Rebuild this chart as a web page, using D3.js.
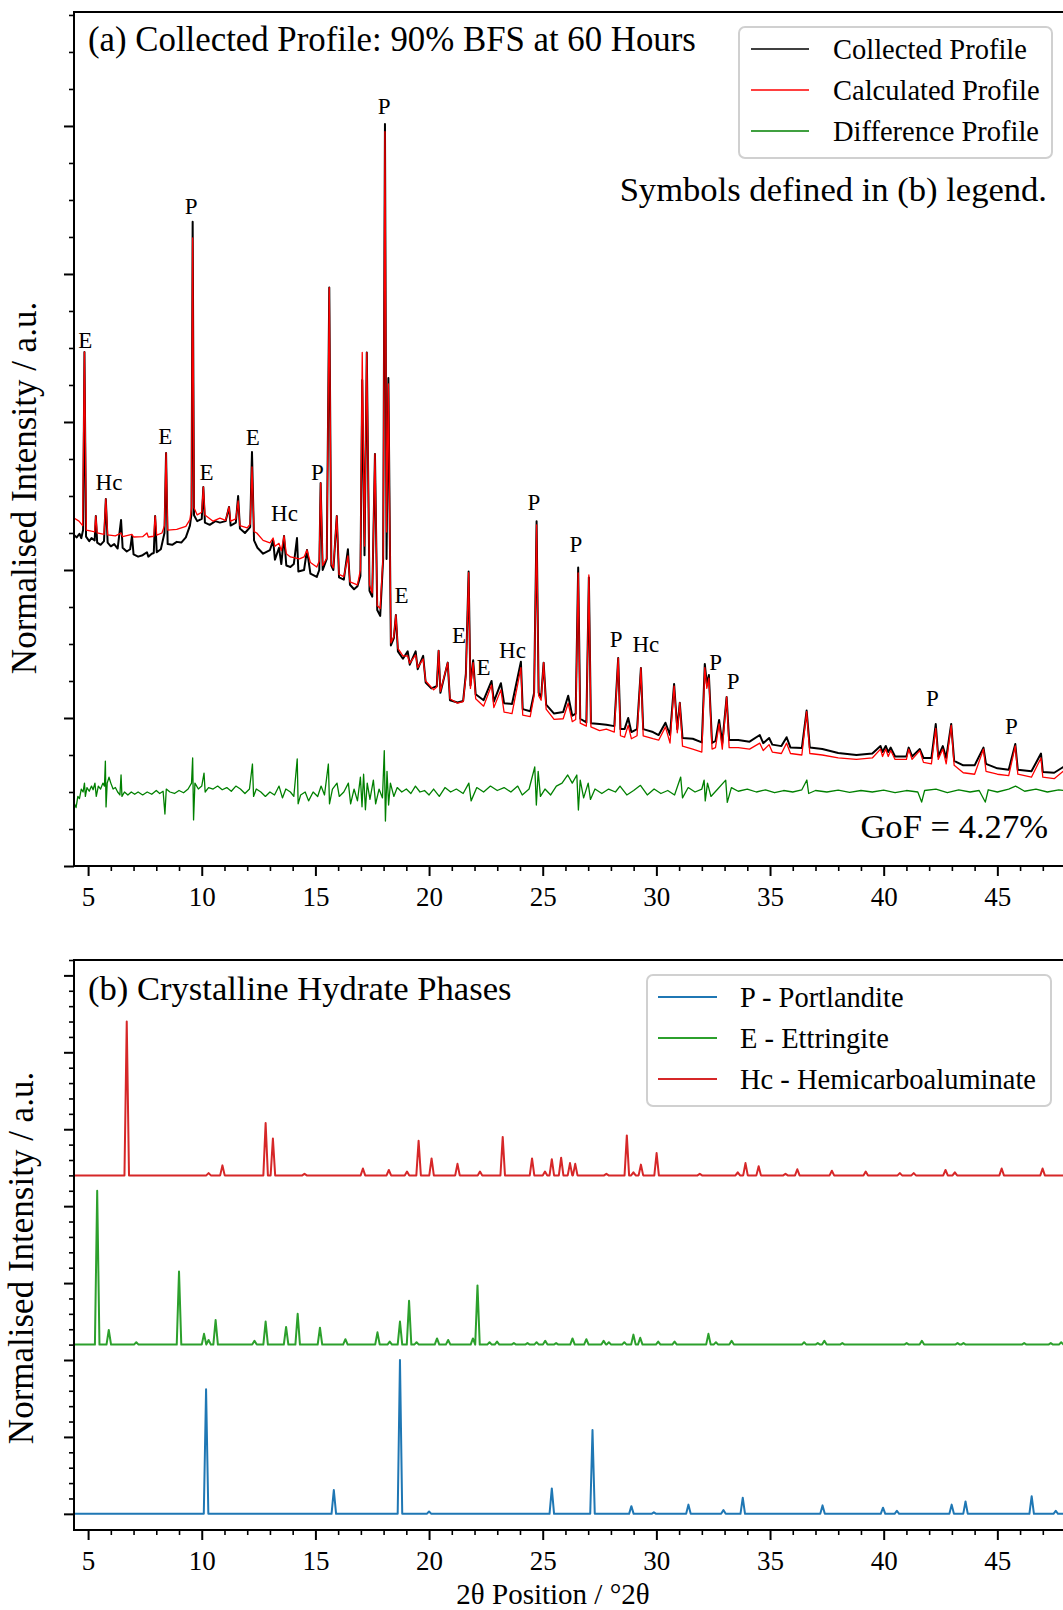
<!DOCTYPE html>
<html>
<head>
<meta charset="utf-8">
<script src="https://cdn.jsdelivr.net/npm/d3@7"></script>
<style>
  body { margin: 0; background: #fff; }
  svg { display: block; font-family: "Liberation Serif", "Times New Roman", serif; }
</style>
</head>
<body>
<div id="chart"></div>
<script>
// ---- (a) refinement profiles: [2theta, counts] ----
const calcProfile = [
  [4.38, 2351], [4.60, 2330], [4.76, 2300], [4.84, 3473], [4.92, 2270],
  [5.15, 2262], [5.29, 2258], [5.34, 2365], [5.40, 2250], [5.70, 2240],
  [5.78, 2480], [5.86, 2237], [6.20, 2230], [6.45, 2250], [6.52, 2225],
  [6.93, 2240], [7.00, 2223], [7.40, 2225], [7.59, 2250], [7.65, 2223],
  [7.89, 2228], [7.95, 2365], [8.02, 2235], [8.25, 2250], [8.36, 2300],
  [8.43, 2791], [8.50, 2270], [8.90, 2275], [9.30, 2295], [9.48, 2340],
  [9.55, 2420], [9.60, 4243], [9.66, 2420], [9.80, 2372], [10.00, 2390],
  [10.07, 2561], [10.14, 2372], [10.50, 2330], [10.80, 2350], [11.05, 2335],
  [11.20, 2426], [11.27, 2330], [11.50, 2345], [11.60, 2466], [11.68, 2300],
  [12.00, 2284], [12.13, 2310], [12.21, 2696], [12.30, 2260], [12.42, 2250],
  [12.70, 2200], [13.00, 2183], [13.14, 2216], [13.22, 2160], [13.40, 2180],
  [13.50, 2130], [13.62, 2230], [13.72, 2110], [13.90, 2088], [14.30, 2075],
  [14.50, 2088], [14.63, 2135], [14.78, 2050], [15.06, 2020], [15.17, 2060],
  [15.23, 2588], [15.32, 2030], [15.50, 2080], [15.61, 3908], [15.70, 2040],
  [15.79, 2014], [15.94, 2365], [16.04, 1970], [16.25, 1955], [16.43, 2095],
  [16.52, 1920], [16.85, 1900], [16.98, 2000], [17.06, 3470], [17.16, 2162],
  [17.26, 3470], [17.38, 1900], [17.50, 1845], [17.62, 2784], [17.72, 1760],
  [17.85, 1740], [17.98, 2100], [18.06, 4962], [18.13, 2257], [18.21, 3257],
  [18.32, 1507], [18.45, 1550], [18.54, 1696], [18.63, 1470], [18.85, 1420],
  [19.06, 1419], [19.15, 1370], [19.41, 1426], [19.50, 1340], [19.74, 1399],
  [19.85, 1250], [20.20, 1190], [20.34, 1210], [20.42, 1455], [20.50, 1180],
  [20.82, 1374], [20.92, 1130], [21.25, 1100], [21.50, 1110], [21.62, 1280],
  [21.74, 1982], [21.82, 1200], [21.94, 1374], [22.05, 1130], [22.40, 1080],
  [22.75, 1223], [22.85, 1070], [23.16, 1190], [23.30, 1040], [23.65, 1030],
  [24.04, 1340], [24.12, 1020], [24.45, 1010], [24.62, 1150], [24.73, 2304],
  [24.82, 1150], [24.93, 1120], [25.04, 1374], [25.15, 1060], [25.50, 990],
  [25.90, 995], [26.12, 1100], [26.30, 975], [26.45, 990], [26.56, 1980],
  [26.65, 965], [26.92, 945], [27.03, 1966], [27.12, 940], [27.50, 915],
  [27.80, 925], [28.15, 905], [28.32, 1405], [28.42, 880], [28.60, 870],
  [28.76, 950], [28.90, 860], [29.15, 880], [29.32, 1338], [29.42, 880],
  [29.85, 860], [30.10, 850], [30.40, 940], [30.60, 830], [30.78, 1216],
  [30.92, 900], [31.03, 1103], [31.15, 810], [31.60, 790], [32.00, 770],
  [32.13, 1340], [32.22, 1200], [32.31, 1270], [32.45, 790], [32.60, 800],
  [32.76, 960], [32.90, 790], [33.09, 1142], [33.20, 800], [33.60, 800],
  [34.10, 790], [34.55, 830], [34.70, 780], [34.96, 820], [35.10, 770],
  [35.50, 760], [35.73, 830], [35.90, 760], [36.40, 750], [36.61, 1043],
  [36.75, 760], [37.30, 750], [38.00, 730], [38.80, 720], [39.50, 730],
  [39.86, 790], [39.95, 740], [40.09, 790], [40.20, 740], [40.31, 780],
  [40.50, 720], [41.00, 720], [41.10, 790], [41.25, 720], [41.59, 780],
  [41.75, 700], [42.10, 690], [42.29, 930], [42.40, 720], [42.60, 790],
  [42.75, 690], [42.97, 950], [43.10, 680], [43.50, 630], [44.00, 620],
  [44.39, 790], [44.50, 640], [45.00, 620], [45.50, 610], [45.79, 811],
  [45.90, 620], [46.50, 600], [46.92, 730], [47.00, 600], [47.50, 590],
  [47.90, 640], [48.50, 600], [50.00, 580]
];

const obsProfile = [
  [4.38, 2237], [4.50, 2220], [4.62, 2245], [4.70, 2215], [4.78, 2270], [4.84, 3473], [4.91, 2225],
  [5.05, 2195], [5.15, 2215], [5.29, 2200], [5.34, 2365], [5.40, 2185], [5.55, 2170], [5.70, 2195],
  [5.78, 2480], [5.86, 2185], [6.00, 2160], [6.15, 2175], [6.30, 2145], [6.45, 2338], [6.52, 2150],
  [6.70, 2125], [6.85, 2140], [6.93, 2230], [7.00, 2105], [7.20, 2090], [7.40, 2100], [7.59, 2120],
  [7.65, 2090], [7.80, 2110], [7.89, 2115], [7.95, 2365], [8.02, 2120], [8.20, 2140], [8.36, 2250],
  [8.43, 2791], [8.50, 2175], [8.70, 2170], [8.90, 2190], [9.10, 2185], [9.30, 2220], [9.48, 2300],
  [9.55, 2380], [9.60, 4352], [9.66, 2370], [9.80, 2330], [10.00, 2345], [10.07, 2561], [10.14, 2320],
  [10.35, 2305], [10.60, 2330], [10.80, 2320], [11.05, 2330], [11.20, 2426], [11.27, 2300], [11.50, 2320],
  [11.60, 2500], [11.68, 2280], [11.90, 2250], [12.13, 2290], [12.21, 2797], [12.30, 2200], [12.45, 2150],
  [12.70, 2110], [13.00, 2135], [13.14, 2200], [13.22, 2070], [13.40, 2150], [13.50, 2040], [13.62, 2230],
  [13.72, 2030], [13.90, 2020], [14.05, 2040], [14.19, 2216], [14.25, 1990], [14.50, 2000], [14.63, 2135],
  [14.78, 1975], [15.06, 1953], [15.17, 2000], [15.23, 2588], [15.32, 2000], [15.50, 2075], [15.61, 3908],
  [15.70, 2030], [15.79, 2000], [15.94, 2365], [16.04, 1950], [16.25, 1935], [16.43, 2140], [16.52, 1900],
  [16.70, 1870], [16.85, 1890], [16.98, 1960], [17.06, 3284], [17.16, 2100], [17.26, 3470], [17.38, 1860],
  [17.50, 1820], [17.62, 2784], [17.72, 1730], [17.85, 1690], [17.98, 2074], [18.06, 5014], [18.13, 2074],
  [18.21, 3297], [18.32, 1490], [18.45, 1540], [18.54, 1696], [18.63, 1450], [18.85, 1400],
  [19.06, 1450], [19.15, 1360], [19.41, 1450], [19.50, 1330], [19.74, 1420], [19.85, 1240], [20.10, 1200],
  [20.34, 1215], [20.42, 1455], [20.50, 1170], [20.82, 1374], [20.92, 1120], [21.25, 1105], [21.50, 1115],
  [21.62, 1300], [21.74, 1990], [21.82, 1220], [21.94, 1390], [22.05, 1160], [22.40, 1120], [22.75, 1250],
  [22.85, 1110], [23.16, 1235], [23.30, 1100], [23.65, 1095], [24.04, 1380], [24.12, 1060], [24.45, 1045],
  [24.62, 1170], [24.73, 2330], [24.82, 1170], [24.93, 1140], [25.04, 1374], [25.15, 1090], [25.50, 1030],
  [25.90, 1040], [26.12, 1150], [26.30, 1015], [26.45, 1030], [26.56, 2017], [26.65, 995], [26.92, 970],
  [27.03, 1950], [27.12, 965], [27.50, 960], [27.80, 955], [28.15, 945], [28.32, 1405], [28.42, 925],
  [28.60, 925], [28.76, 1000], [28.90, 905], [29.15, 925], [29.32, 1338], [29.42, 925], [29.85, 905],
  [30.10, 885], [30.40, 968], [30.60, 885], [30.78, 1230], [30.92, 925], [31.03, 1103], [31.15, 865],
  [31.60, 860], [32.00, 835], [32.13, 1365], [32.22, 1230], [32.31, 1291], [32.45, 831], [32.60, 845],
  [32.76, 987], [32.90, 830], [33.09, 1142], [33.20, 851], [33.60, 851], [34.10, 840], [34.55, 885],
  [34.70, 830], [34.96, 865], [35.10, 820], [35.50, 810], [35.73, 870], [35.90, 800], [36.40, 797],
  [36.61, 1050], [36.75, 800], [37.30, 790], [38.00, 764], [38.80, 750], [39.50, 760], [39.86, 811],
  [39.95, 770], [40.09, 811], [40.20, 770], [40.31, 800], [40.50, 740], [41.00, 740], [41.10, 800],
  [41.25, 740], [41.59, 790], [41.75, 730], [42.10, 730], [42.29, 959], [42.40, 740], [42.60, 810],
  [42.75, 730], [42.97, 960], [43.10, 710], [43.50, 680], [44.00, 680], [44.39, 800], [44.50, 690],
  [45.00, 660], [45.50, 650], [45.79, 824], [45.90, 650], [46.50, 640], [46.92, 760], [47.00, 635],
  [47.50, 630], [47.90, 669], [48.50, 640], [50.00, 620]
];

const diffProfile = [
  [4.40, 420], [4.47, 395], [4.55, 470], [4.62, 455], [4.70, 520], [4.78, 500], [4.84, 560], [4.88, 470],
  [4.95, 530], [5.05, 505], [5.15, 540], [5.22, 515], [5.30, 560], [5.36, 470], [5.45, 540], [5.55, 520],
  [5.65, 560], [5.72, 540], [5.76, 709], [5.79, 399], [5.84, 560], [5.92, 600], [6.00, 560], [6.10, 520],
  [6.20, 530], [6.30, 500], [6.40, 480], [6.45, 615], [6.49, 470], [6.60, 500], [6.75, 480], [6.90, 500],
  [7.05, 485], [7.20, 500], [7.40, 480], [7.60, 500], [7.80, 485], [8.00, 510], [8.15, 490], [8.30, 505],
  [8.38, 351], [8.44, 520], [8.60, 500], [8.80, 490], [9.00, 510], [9.20, 495], [9.40, 520], [9.55, 560],
  [9.60, 730], [9.64, 311], [9.70, 560], [9.85, 520], [10.00, 540], [10.10, 628], [10.15, 500], [10.30, 530],
  [10.50, 520], [10.70, 540], [10.90, 515], [11.10, 530], [11.30, 505], [11.50, 540], [11.70, 520], [11.90, 490],
  [12.10, 520], [12.23, 689], [12.28, 470], [12.40, 520], [12.60, 500], [12.80, 470], [13.00, 500], [13.20, 480],
  [13.40, 540], [13.55, 460], [13.70, 520], [13.90, 500], [14.05, 470], [14.20, 723], [14.24, 420], [14.35, 480],
  [14.55, 500], [14.70, 440], [14.90, 500], [15.10, 470], [15.25, 540], [15.40, 480], [15.57, 689], [15.62, 420],
  [15.75, 520], [15.95, 560], [16.05, 470], [16.25, 500], [16.45, 560], [16.55, 420], [16.70, 520], [16.85, 440],
  [16.98, 600], [17.05, 400], [17.12, 620], [17.20, 380], [17.28, 560], [17.40, 450], [17.55, 580], [17.65, 420],
  [17.80, 520], [17.95, 460], [18.03, 779], [18.08, 304], [18.15, 640], [18.22, 412], [18.30, 560], [18.45, 470],
  [18.60, 530], [18.80, 500], [19.00, 520], [19.20, 490], [19.40, 540], [19.60, 500], [19.80, 510], [20.00, 480],
  [20.20, 520], [20.45, 470], [20.70, 530], [20.95, 500], [21.20, 520], [21.50, 490], [21.75, 560], [21.85, 440],
  [22.10, 530], [22.40, 500], [22.70, 540], [23.00, 510], [23.30, 530], [23.60, 500], [23.90, 540], [24.10, 480],
  [24.40, 520], [24.65, 669], [24.72, 412], [24.80, 640], [24.90, 470], [25.10, 520], [25.35, 480], [25.60, 540],
  [25.85, 560], [26.10, 615], [26.30, 560], [26.50, 615], [26.57, 378], [26.65, 580], [26.80, 460], [27.00, 560],
  [27.10, 450], [27.30, 520], [27.60, 490], [27.90, 520], [28.20, 500], [28.40, 540], [28.70, 480], [29.00, 510],
  [29.30, 545], [29.60, 480], [29.90, 520], [30.20, 490], [30.50, 510], [30.80, 480], [31.07, 601], [31.15, 460],
  [31.40, 530], [31.70, 500], [32.00, 520], [32.10, 580], [32.15, 440], [32.25, 560], [32.40, 470], [32.70, 520],
  [33.05, 580], [33.12, 430], [33.30, 530], [33.60, 505], [34.00, 520], [34.40, 500], [34.80, 515], [35.20, 495],
  [35.60, 510], [36.00, 500], [36.40, 515], [36.62, 581], [36.70, 490], [37.00, 510], [37.50, 500], [38.00, 512],
  [38.50, 498], [39.00, 510], [39.50, 500], [40.00, 512], [40.50, 495], [41.00, 510], [41.50, 500], [41.67, 432],
  [41.80, 510], [42.30, 520], [42.80, 495], [43.30, 515], [43.80, 500], [44.20, 510], [44.47, 432], [44.60, 515],
  [45.00, 500], [45.50, 520], [45.80, 540], [46.20, 505], [46.70, 520], [47.20, 500], [47.70, 515], [48.20, 505],
  [50.00, 510]
];

// phase symbols written over the peaks: [symbol, 2theta, counts]
const peakLabels = [
  ["E", 4.88, 3500], ["Hc", 5.92, 2541], ["E", 8.40, 2851], ["P", 9.53, 4405],
  ["E", 10.21, 2608], ["E", 12.24, 2845], ["Hc", 13.64, 2331], ["P", 15.09, 2608],
  ["P", 18.02, 5081], ["E", 18.79, 1777], ["E", 21.32, 1507], ["E", 22.40, 1291],
  ["Hc", 23.67, 1405], ["P", 24.61, 2405], ["P", 26.46, 2122], ["P", 28.23, 1480],
  ["Hc", 29.54, 1446], ["P", 32.61, 1324], ["P", 33.38, 1196], ["P", 42.14, 1081],
  ["P", 45.62, 892]
];

const fitNames = ["Collected Profile", "Calculated Profile", "Difference Profile"];

// ---- (b) reference phase patterns: [2theta, relative intensity] ----
const portlandite = [
  [10.19, 1.62], [15.81, 0.31], [18.72, 2.00], [20.00, 0.03], [25.40, 0.33],
  [27.19, 1.09], [28.90, 0.10], [29.89, 0.02], [31.41, 0.12], [32.95, 0.05],
  [33.80, 0.21], [37.31, 0.11], [39.97, 0.08], [40.58, 0.04], [42.99, 0.12],
  [43.60, 0.16], [46.51, 0.23], [47.57, 0.04]
];
const ettringite = [
  [5.40, 2.00], [5.91, 0.19], [7.12, 0.03], [9.00, 0.95], [10.10, 0.14],
  [10.30, 0.06], [10.61, 0.32], [12.32, 0.05], [12.81, 0.30], [13.71, 0.23],
  [14.22, 0.40], [15.20, 0.22], [16.32, 0.07], [17.73, 0.16], [18.27, 0.04],
  [18.72, 0.30], [19.12, 0.57], [19.45, 0.03], [20.35, 0.08], [20.84, 0.06],
  [21.93, 0.08], [22.13, 0.77], [22.66, 0.03], [22.99, 0.04], [23.73, 0.02],
  [24.33, 0.02], [24.73, 0.03], [25.11, 0.05], [25.59, 0.02], [26.31, 0.08],
  [26.92, 0.07], [27.68, 0.05], [27.91, 0.03], [28.59, 0.03], [28.99, 0.13],
  [29.29, 0.09], [30.08, 0.04], [30.80, 0.04], [32.29, 0.14], [32.62, 0.03],
  [33.31, 0.05], [36.50, 0.03], [37.10, 0.02], [37.39, 0.05], [38.18, 0.02],
  [41.01, 0.02], [41.68, 0.05], [43.25, 0.02], [43.51, 0.02], [46.18, 0.02],
  [47.35, 0.02], [47.81, 0.03]
];
const hemicarbo = [
  [6.70, 2.00], [10.30, 0.03], [10.91, 0.13], [12.81, 0.68], [13.13, 0.48],
  [14.52, 0.02], [17.09, 0.09], [18.23, 0.07], [19.03, 0.05], [19.54, 0.45],
  [20.11, 0.22], [21.25, 0.15], [22.24, 0.05], [23.24, 0.50], [24.53, 0.22],
  [25.10, 0.05], [25.40, 0.21], [25.81, 0.23], [26.20, 0.16], [26.43, 0.15],
  [27.80, 0.02], [28.70, 0.52], [28.99, 0.04], [29.32, 0.14], [30.01, 0.29],
  [31.91, 0.02], [33.58, 0.04], [33.92, 0.16], [34.50, 0.12], [35.68, 0.02],
  [36.20, 0.08], [37.72, 0.06], [39.21, 0.05], [40.71, 0.03], [41.32, 0.03],
  [42.72, 0.07], [43.13, 0.04], [45.19, 0.09], [46.99, 0.09]
];
const phaseNames = ["P - Portlandite", "E - Ettringite", "Hc - Hemicarboaluminate"];
const phaseOffsets = [0, 2.2, 4.4];

const xMajorTicks = d3.range(5, 46, 5);
const xMinorTicks = d3.range(5, 50, 1).filter(v => v % 5 !== 0);

// ---- layout ----
const W = 1063, H = 1610;
const xLeft = 74, xRight = 1111;
const A = { top: 12, bottom: 866 };
const B = { top: 960, bottom: 1530 };
const serif = '"Liberation Serif", "Times New Roman", serif';

const svg = d3.select("#chart").append("svg")
    .attr("width", W)
    .attr("height", H);
svg.append("rect").attr("width", W).attr("height", H).attr("fill", "#fff");

const x = d3.scaleLinear().domain([4.38, 50]).range([xLeft, xRight]);
const yA = d3.scaleLinear().domain([0, 5770]).range([A.bottom, A.top]);
const yB = d3.scaleLinear().domain([-0.21, 7.2]).range([B.bottom, B.top]);

function makePanel(box, y, yMajor, yMinor, id) {
  const g = svg.append("g");
  svg.append("clipPath").attr("id", id).append("rect")
      .attr("x", xLeft).attr("y", box.top)
      .attr("width", xRight - xLeft).attr("height", box.bottom - box.top);

  const xAx = g.append("g")
      .attr("transform", `translate(0,${box.bottom})`)
      .call(d3.axisBottom(x).tickValues(xMajorTicks).tickSize(10).tickPadding(11).tickFormat(d3.format("d")));
  xAx.attr("font-family", serif).attr("font-size", 27);
  xAx.selectAll("text").attr("fill", "#000");

  const xMin = g.append("g")
      .attr("transform", `translate(0,${box.bottom})`)
      .call(d3.axisBottom(x).tickValues(xMinorTicks).tickSize(5).tickFormat(""));
  const yAx = g.append("g")
      .attr("transform", `translate(${xLeft},0)`)
      .call(d3.axisLeft(y).tickValues(yMajor).tickSize(10).tickFormat(""));
  const yMin = g.append("g")
      .attr("transform", `translate(${xLeft},0)`)
      .call(d3.axisLeft(y).tickValues(yMinor).tickSize(5).tickFormat(""));

  g.selectAll(".domain").remove();
  [xAx, yAx].forEach(a => a.selectAll("line").attr("stroke", "#000").attr("stroke-width", 2));
  [xMin, yMin].forEach(a => a.selectAll("line").attr("stroke", "#000").attr("stroke-width", 1.6));

  const plot = g.append("g").attr("clip-path", `url(#${id})`);

  // frame drawn on top of the data
  const frame = g.append("rect")
      .attr("x", xLeft).attr("y", box.top)
      .attr("width", xRight - xLeft).attr("height", box.bottom - box.top)
      .attr("fill", "none").attr("stroke", "#000").attr("stroke-width", 2);
  return { g, plot, frame };
}

function legend(g, x0, y0, w, h, rows, rowY, lineX0, lineX1, textX) {
  const lg = g.append("g");
  lg.append("rect")
      .attr("x", x0).attr("y", y0).attr("width", w).attr("height", h)
      .attr("rx", 6).attr("fill", "#fff").attr("fill-opacity", 0.85)
      .attr("stroke", "#d0d0d0").attr("stroke-width", 2);
  rows.forEach((r, i) => {
    lg.append("line")
        .attr("x1", lineX0).attr("x2", lineX1)
        .attr("y1", rowY[i]).attr("y2", rowY[i])
        .attr("stroke", r.color).attr("stroke-width", r.width);
    lg.append("text")
        .attr("x", textX).attr("y", rowY[i] + 9.5)
        .attr("font-size", 28.5).attr("fill", "#000")
        .text(r.name);
  });
}

// ---------- panel (a) ----------
const pa = makePanel(A, yA, d3.range(0, 5771, 1000), d3.range(0, 5771, 250).filter(v => v % 1000 !== 0), "clipA");
const lineA = d3.line().x(d => x(d[0])).y(d => yA(d[1]));

pa.plot.append("path").datum(obsProfile)
    .attr("fill", "none").attr("stroke", "#000").attr("stroke-width", 2)
    .attr("stroke-linejoin", "round").attr("d", lineA);
pa.plot.append("path").datum(calcProfile)
    .attr("fill", "none").attr("stroke", "#ff0000").attr("stroke-width", 1.3)
    .attr("stroke-linejoin", "round").attr("d", lineA);
pa.plot.append("path").datum(diffProfile)
    .attr("fill", "none").attr("stroke", "#008000").attr("stroke-width", 1.3)
    .attr("stroke-linejoin", "round").attr("d", lineA);

pa.g.selectAll("text.peak")
  .data(peakLabels)
  .join("text")
    .attr("class", "peak")
    .attr("x", d => x(d[1]))
    .attr("y", d => yA(d[2]))
    .attr("text-anchor", "middle")
    .attr("font-size", 23)
    .attr("fill", "#000")
    .text(d => d[0]);

pa.g.append("text")
    .attr("x", 88).attr("y", 51)
    .attr("font-size", 34.8).attr("fill", "#000")
    .text("(a) Collected Profile: 90% BFS at 60 Hours");

pa.g.append("text")
    .attr("x", 1047).attr("y", 201)
    .attr("text-anchor", "end")
    .attr("font-size", 34.6).attr("fill", "#000")
    .text("Symbols defined in (b) legend.");

pa.g.append("text")
    .attr("x", 1048).attr("y", 838)
    .attr("text-anchor", "end")
    .attr("font-size", 34.6).attr("fill", "#000")
    .text("GoF = 4.27%");

legend(pa.g, 739, 27, 313, 131,
  fitNames.map((n, i) => ({ name: n, color: ["#000", "#ff0000", "#008000"][i], width: 1.3 })),
  [49, 90, 131], 751, 809, 833);

pa.g.append("text")
    .attr("transform", "translate(36,488) rotate(-90)")
    .attr("text-anchor", "middle")
    .attr("font-size", 35).attr("fill", "#000")
    .text("Normalised Intensity / a.u.");

// ---------- panel (b) ----------
const pb = makePanel(B, yB, d3.range(0, 7.01, 1), d3.range(0, 7.21, 0.2).filter(v => Math.abs(v - Math.round(v)) > 0.01), "clipB");
const halfWidth = 0.1;

function stickPattern(peaks, offset) {
  const pts = [[4.38, offset]];
  peaks.forEach(([pos, h]) => {
    pts.push([pos - halfWidth, offset], [pos, offset + h], [pos + halfWidth, offset]);
  });
  pts.push([50, offset]);
  return pts.sort((a, b) => a[0] - b[0]);
}

const lineB = d3.line().x(d => x(d[0])).y(d => yB(d[1]));
const phases = [portlandite, ettringite, hemicarbo];
const phaseColors = ["#1f77b4", "#2ca02c", "#d62728"];

phases.forEach((p, i) => {
  pb.plot.append("path").datum(stickPattern(p, phaseOffsets[i]))
      .attr("fill", "none").attr("stroke", phaseColors[i]).attr("stroke-width", 2)
      .attr("stroke-linejoin", "round").attr("d", lineB);
});

pb.g.append("text")
    .attr("x", 88).attr("y", 1000)
    .attr("font-size", 34.6).attr("fill", "#000")
    .text("(b) Crystalline Hydrate Phases");

legend(pb.g, 647, 975, 404, 131,
  phaseNames.map((n, i) => ({ name: n, color: phaseColors[i], width: 2 })),
  [997, 1038, 1079], 658, 717, 740);

pb.g.append("text")
    .attr("transform", "translate(33,1258) rotate(-90)")
    .attr("text-anchor", "middle")
    .attr("font-size", 35).attr("fill", "#000")
    .text("Normalised Intensity / a.u.");

pb.g.append("text")
    .attr("x", 553).attr("y", 1604)
    .attr("text-anchor", "middle")
    .attr("font-size", 29).attr("fill", "#000")
    .text("2θ Position / °2θ");
</script>
</body>
</html>
